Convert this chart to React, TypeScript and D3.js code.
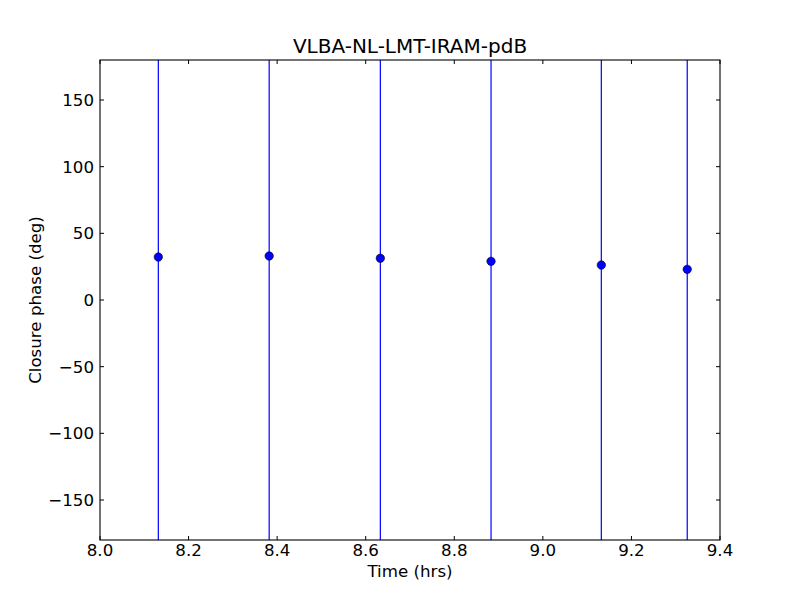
import React from "react";
import * as d3 from "d3";

const times = [8.1317, 8.382, 8.633, 8.883, 9.132, 9.326];
const phases = [32.2, 33.0, 31.3, 29.0, 26.2, 23.0];
const errors = [400, 400, 400, 400, 400, 400];
const xTicks = [8.0, 8.2, 8.4, 8.6, 8.8, 9.0, 9.2, 9.4];
const yTicks = [-150, -100, -50, 0, 50, 100, 150];

const W = 800, H = 600;
const L = 100, R = 720, T = 60, B = 540;
const FONT = "DejaVu Sans, sans-serif";

export default function App() {
  const x = d3.scaleLinear().domain([8.0, 9.4]).range([L, R]);
  const y = d3.scaleLinear().domain([-180, 180]).range([B, T]);
  return (
    <svg width={W} height={H} style={{ position: "absolute", left: 0, top: 0, background: "#fff" }}>
      <rect x={0} y={0} width={W} height={H} fill="#fff" />
      <defs>
        <clipPath id="plotclip">
          <rect x={L} y={T} width={R - L} height={B - T} />
        </clipPath>
      </defs>
      <g clipPath="url(#plotclip)">
        {times.map((t, i) => (
          <line key={"e" + i} x1={x(t)} x2={x(t)} y1={y(phases[i] - errors[i])} y2={y(phases[i] + errors[i])} stroke="#0000ff" strokeWidth={1.2} />
        ))}
        {times.map((t, i) => (
          <circle key={"p" + i} cx={x(t)} cy={y(phases[i])} r={4.2} fill="#0000ff" stroke="#000" strokeWidth={0.6} />
        ))}
      </g>
      <rect x={L} y={T} width={R - L} height={B - T} fill="none" stroke="#000" strokeWidth={1.1} />
      {xTicks.map((v, i) => (
        <g key={"xt" + i}>
          <line x1={x(v)} x2={x(v)} y1={B} y2={B - 4} stroke="#000" />
          <line x1={x(v)} x2={x(v)} y1={T} y2={T + 4} stroke="#000" />
          <text x={x(v)} y={556} textAnchor="middle" fontFamily={FONT} fontSize={16.67} fill="#000">{v.toFixed(1)}</text>
        </g>
      ))}
      {yTicks.map((v, i) => (
        <g key={"yt" + i}>
          <line x1={L} x2={L + 4} y1={y(v)} y2={y(v)} stroke="#000" />
          <line x1={R} x2={R - 4} y1={y(v)} y2={y(v)} stroke="#000" />
          <text x={94} y={y(v)} dy="0.36em" textAnchor="end" fontFamily={FONT} fontSize={16.67} fill="#000">{v < 0 ? "\u2212" + Math.abs(v) : String(v)}</text>
        </g>
      ))}
      <text x={(L + R) / 2} y={577} textAnchor="middle" fontFamily={FONT} fontSize={16.67} fill="#000">Time (hrs)</text>
      <text transform={`translate(41,${(T + B) / 2}) rotate(-90)`} textAnchor="middle" fontFamily={FONT} fontSize={16.67} fill="#000">Closure phase (deg)</text>
      <text x={(L + R) / 2} y={53} textAnchor="middle" fontFamily={FONT} fontSize={20} fill="#000">VLBA-NL-LMT-IRAM-pdB</text>
    </svg>
  );
}
